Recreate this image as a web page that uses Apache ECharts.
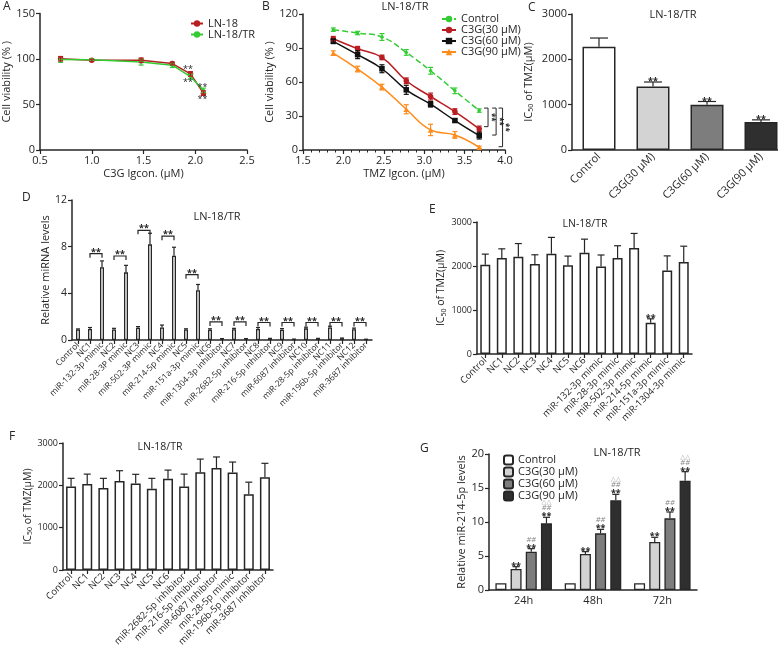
<!DOCTYPE html>
<html>
<head>
<meta charset="utf-8">
<script src="https://cdn.jsdelivr.net/npm/echarts@6/dist/echarts.min.js"></script>
<style>
  html, body { margin: 0; padding: 0; background: #fff; }
  #wrap { position: relative; width: 778px; height: 655px; }
  .panel { position: absolute; left: 0; top: 0; width: 778px; height: 655px; }
</style>
</head>
<body>
<div id="wrap">
  <div class="panel" id="pA"></div>
  <div class="panel" id="pB"></div>
  <div class="panel" id="pC"></div>
  <div class="panel" id="pD"></div>
  <div class="panel" id="pE"></div>
  <div class="panel" id="pF"></div>
  <div class="panel" id="pG"></div>
</div>
<script>
// ---- data: panel A (C3G dose, log10 µM) ----
const aDose = [0.699, 1.0, 1.477, 1.778, 1.954, 2.079];
const aLN18 = [100.2, 98.5, 98.6, 95.0, 83.6, 62.5];
const aLN18Err = [2.5, 1.2, 2.5, 1.5, 2.5, 2.5];
const aLN18TR = [99.5, 99.2, 96.8, 93.2, 80.7, 65.5];
const aLN18TRErr = [3.2, 1.2, 3.5, 2.5, 2.5, 2.5];

// ---- panel B (TMZ dose, log10 µM) ----
const bDose = [1.875, 2.176, 2.477, 2.778, 3.079, 3.380, 3.681];
const bControl = [106.2, 103.2, 99.7, 86.1, 69.9, 52.2, 34.8];
const bControlErr = [1.5, 1.5, 3, 2.5, 3, 2.5, 1.5];
const bC30 = [98.2, 89.4, 81.7, 61.1, 47.2, 33.9, 18.6];
const bC30Err = [2, 2, 2, 2.5, 3, 2.5, 2.5];
const bC60 = [95.9, 84.1, 71.7, 53.1, 40.4, 26.0, 12.7];
const bC60Err = [2, 3.5, 3.5, 4, 2.5, 1.5, 3];
const bC90 = [85.5, 71.4, 55.5, 36.0, 17.7, 13.3, 2.4];
const bC90Err = [2, 2.5, 2.5, 4, 5, 3, 1];

// ---- panel C ----
const cCats = ['Control', 'C3G(30 μM)', 'C3G(60 μM)', 'C3G(90 μM)'];
const cIC50 = [2280, 1400, 1000, 620];
const cErr = [190, 100, 70, 45];

// ---- panel D ----
const dCats = ['Control', 'NC1', 'miR-132-3p mimic', 'NC2', 'miR-28-3P mimic', 'NC3', 'miR-502-3P mimic',
  'NC4', 'miR-214-5p mimic', 'NC5', 'miR-151a-3p mimic', 'NC6', 'miR-1304-3p inhibitor', 'NC7',
  'miR-2682-5p inhibitor', 'NC8', 'miR-216-5p inhibitor', 'NC9', 'miR-6087 inhibitor', 'NC10',
  'miR-28-5p inhibitor', 'NC11', 'miR-196b-5p inhibitor', 'NC12', 'miR-3687 inhibitor'];
const dVals = [0.9, 0.95, 6.23, 0.9, 5.8, 1.05, 8.2, 1.08, 7.23, 0.9, 4.26, 0.88, 0.1, 0.92, 0.1,
  0.95, 0.12, 0.88, 0.06, 1.0, 0.12, 1.08, 0.15, 0.92, 0.05];
const dErr = [0.05, 0.12, 0.55, 0.1, 0.6, 0.1, 0.95, 0.2, 0.72, 0.06, 0.5, 0.08, 0.02, 0.08, 0.02,
  0.12, 0.02, 0.1, 0.02, 0.1, 0.02, 0.1, 0.02, 0.1, 0.02];
const dPairs = [[1, 2, 7.4], [3, 4, 7.2], [5, 6, 9.4], [7, 8, 8.9], [9, 10, 5.6], [11, 12, 1.55],
  [13, 14, 1.55], [15, 16, 1.5], [17, 18, 1.5], [19, 20, 1.5], [21, 22, 1.5], [23, 24, 1.5]];

// ---- panel E ----
const eCats = ['Control', 'NC1', 'NC2', 'NC3', 'NC4', 'NC5', 'NC6', 'miR-132-3p mimic', 'miR-28-3p mimic',
  'miR-502-3p mimic', 'miR-214-5p mimic', 'miR-151a-3p mimic', 'miR-1304-3p mimic'];
const eVals = [2030, 2180, 2210, 2045, 2280, 2015, 2300, 1990, 2180, 2410, 710, 1900, 2090];
const eErr = [240, 210, 300, 210, 370, 210, 310, 260, 280, 330, 90, 330, 360];

// ---- panel F ----
const fCats = ['Control', 'NC1', 'NC2', 'NC3', 'NC4', 'NC5', 'NC6', 'miR-2682-5p inhibitor',
  'miR-216-5p inhibitor', 'miR-6087 inhibitor', 'miR-28-5p mimic', 'miR-196b-5p inhibitor', 'miR-3687 inhibitor'];
const fVals = [1975, 2030, 1935, 2100, 2045, 1920, 2155, 1975, 2310, 2410, 2305, 1790, 2190];
const fErr = [190, 235, 230, 245, 215, 245, 205, 290, 310, 260, 245, 285, 330];

// ---- panel G ----
const gCats = ['24h', '48h', '72h'];
const gControl = [1, 1, 1];
const gC30 = [3.09, 5.29, 7.06];
const gC30Err = [0.34, 0.35, 0.69];
const gC60 = [5.64, 8.33, 10.54];
const gC60Err = [0.44, 0.59, 0.93];
const gC90 = [9.8, 13.19, 16.08];
const gC90Err = [0.89, 0.88, 1.32];

const FONT = '"Open Sans", "DejaVu Sans", sans-serif';
const INK = '#262626';
const RED = '#b81d22', GREEN = '#33cc33', ORANGE = '#ff8c1a', BLACK = '#111111';
const GREYS = ['#ffffff', '#d3d3d3', '#7d7d7d', '#2f2f2f'];

function merge(base, extra) {
  const out = Object.assign({}, base);
  Object.keys(extra || {}).forEach(k => {
    const v = extra[k];
    const isObj = v && typeof v === 'object' && !Array.isArray(v);
    out[k] = (isObj && base[k] && typeof base[k] === 'object') ? merge(base[k], v) : v;
  });
  return out;
}

const axisBase = {
  nameLocation: 'middle',
  axisLine: { show: true, onZero: false, lineStyle: { color: INK, width: 1.5 } },
  axisTick: { show: true, length: 4, lineStyle: { color: INK, width: 1.2 } },
  axisLabel: { color: INK, fontSize: 11, fontFamily: FONT, margin: 5 },
  splitLine: { show: false },
  nameTextStyle: { color: INK, fontSize: 11, fontFamily: FONT }
};
const valueAxis = (min, max, interval, more) => merge(axisBase, merge({
  type: 'value', min, max, interval, axisLabel: { formatter: v => String(v) }
}, more));
const catAxis = (data, more) => merge(axisBase, merge({
  type: 'category', data,
  axisTick: { alignWithLabel: true },
  axisLabel: { rotate: 45, interval: 0, fontSize: 9 }
}, more));

function grid(left, top, width, height) {
  return { left, top, width, height, containLabel: false, outerBoundsMode: 'none' };
}

// vertical error bars: points = [x, y, up, down]
function errorBars(points, opts) {
  opts = opts || {};
  const cap = opts.cap || 3.5, color = opts.color || INK, shift = opts.shift || 0;
  return {
    type: 'custom', silent: true, z: opts.z || 4, data: points,
    renderItem(params, api) {
      const x = api.value(0), y = api.value(1), up = api.value(2), down = api.value(3);
      const hi = api.coord([x, y + up]);
      const lo = api.coord([x, y - down]);
      const cx = hi[0] + shift;
      const st = { stroke: color, lineWidth: 1.2 };
      const kids = [
        { type: 'line', shape: { x1: cx, y1: hi[1], x2: cx, y2: lo[1] }, style: st },
        { type: 'line', shape: { x1: cx - cap, y1: hi[1], x2: cx + cap, y2: hi[1] }, style: st }
      ];
      if (down > 0) kids.push({ type: 'line', shape: { x1: cx - cap, y1: lo[1], x2: cx + cap, y2: lo[1] }, style: st });
      return { type: 'group', children: kids };
    }
  };
}

// text marks at data positions
function textMarks(points, texts, opts) {
  opts = opts || {};
  return {
    type: 'custom', silent: true, z: 6, data: points,
    renderItem(params, api) {
      const c = api.coord([api.value(0), api.value(1)]);
      return {
        type: 'text', x: c[0] + (opts.dx || 0), y: c[1] + (opts.dy || 0), rotation: opts.rotation || 0,
        style: {
          text: texts[params.dataIndex], fill: opts.color || INK,
          font: opts.font || ('bold 9px ' + FONT), align: 'center', verticalAlign: opts.va || 'bottom'
        }
      };
    }
  };
}

function mount(id, option) {
  const chart = echarts.init(document.getElementById(id), null, { renderer: 'canvas' });
  option.animation = false;
  option.textStyle = { fontFamily: FONT, color: INK };
  chart.setOption(option);
  return chart;
}

function label(text, x, y, size, align) {
  return {
    type: 'text', x, y,
    style: { text, fill: INK, font: (size || 11) + 'px ' + FONT, align: align || 'center', verticalAlign: 'middle' }
  };
}

const pairs = (xs, ys) => xs.map((x, i) => [x, ys[i]]);
const errPts = (xs, ys, es, both) => xs.map((x, i) => [x, ys[i], es[i], both ? es[i] : 0]);
const idx = arr => arr.map((_, i) => i);

// ================= A =================
mount('pA', {
  grid: grid(40, 13.5, 207, 136.5),
  xAxis: valueAxis(0.5, 2.5, 0.5, {
    name: 'C3G lgcon. (μM)', nameGap: 18,
    axisLabel: { formatter: v => v.toFixed(1) }
  }),
  yAxis: valueAxis(0, 150, 50, { name: 'Cell viability (% )', nameGap: 25 }),
  legend: {
    left: 185, top: 13, orient: 'vertical', itemGap: 0, itemWidth: 12, itemHeight: 8,
    textStyle: { fontSize: 11, lineHeight: 11, color: INK }, data: ['LN-18', 'LN-18/TR']
  },
  graphic: [label('A', 3, 7, 12, 'left')],
  series: [
    errorBars(errPts(aDose, aLN18TR, aLN18TRErr, true), { color: GREEN, cap: 2.5 }),
    errorBars(errPts(aDose, aLN18, aLN18Err, true), { color: RED, cap: 2.5 }),
    { type: 'line', name: 'LN-18/TR', data: pairs(aDose, aLN18TR), symbol: 'circle', symbolSize: 3.5,
      lineStyle: { color: GREEN, width: 1.5 }, itemStyle: { color: GREEN }, z: 3 },
    { type: 'line', name: 'LN-18', data: pairs(aDose, aLN18), symbol: 'circle', symbolSize: 5.5,
      lineStyle: { color: RED, width: 1.5 }, itemStyle: { color: RED }, z: 2 },
    textMarks([[1.93, 88], [1.93, 74.5], [2.07, 68.4], [2.07, 56]], ['**', '**', '**', '**'],
      { va: 'middle', font: '9px ' + FONT })
  ]
});

// ================= B =================
const bSeries = [
  ['Control', bControl, bControlErr, GREEN, 'circle', 3.5, 'dashed'],
  ['C3G(30 μM)', bC30, bC30Err, RED, 'circle', 5.5, 'solid'],
  ['C3G(60 μM)', bC60, bC60Err, BLACK, 'rect', 5.5, 'solid'],
  ['C3G(90 μM)', bC90, bC90Err, ORANGE, 'triangle', 5.5, 'solid']
];
mount('pB', {
  grid: grid(303, 14, 202, 136),
  xAxis: valueAxis(1.5, 4.0, 0.5, {
    name: 'TMZ lgcon. (μM)', nameGap: 18,
    minorTick: { show: true, splitNumber: 5, length: 2.5, lineStyle: { color: INK, width: 1 } },
    axisLabel: { formatter: v => v.toFixed(1) }
  }),
  yAxis: valueAxis(0, 120, 30, { name: 'Cell viability (% )', nameGap: 22 }),
  legend: {
    left: 436, top: 8.5, orient: 'vertical', itemGap: 0, itemWidth: 14, itemHeight: 8,
    textStyle: { fontSize: 11, lineHeight: 11, color: INK }, data: bSeries.map(s => s[0])
  },
  graphic: [label('B', 262, 7, 12, 'left'), label('LN-18/TR', 405, 7, 11)],
  series: [].concat(
    bSeries.map(s => errorBars(errPts(bDose, s[1], s[2], true), { color: s[3], cap: 2.5 })),
    bSeries.map(s => ({
      type: 'line', name: s[0], data: pairs(bDose, s[1]), smooth: 0.45,
      symbol: s[4], symbolSize: s[5],
      lineStyle: { color: s[3], width: 1.5, type: s[6] }, itemStyle: { color: s[3] }
    })),
    [{
      type: 'custom', silent: true, z: 6, data: [[3.79, 37, 20.6], [3.89, 37, 13.2], [3.97, 37, 2.9]],
      renderItem(params, api) {
        const a = api.coord([api.value(0), api.value(1)]);
        const b = api.coord([api.value(0), api.value(2)]);
        return {
          type: 'group', children: [
            { type: 'polyline', shape: { points: [[a[0] - 4, a[1]], a, b, [b[0] - 4, b[1]]] },
              style: { stroke: INK, lineWidth: 1, fill: 'none' } },
            { type: 'text', x: a[0] + 3, y: (a[1] + b[1]) / 2, rotation: -Math.PI / 2,
              style: { text: '**', fill: INK, font: 'bold 8px ' + FONT, align: 'center', verticalAlign: 'middle' } }
          ]
        };
      }
    }]
  )
});

// ================= C =================
mount('pC', {
  grid: grid(572, 14, 216, 136),
  xAxis: catAxis(cCats, { axisLabel: { fontSize: 11 }, axisTick: { show: false } }),
  yAxis: valueAxis(0, 3000, 1000, {
    name: '{a|IC}{b|50}{a| of TMZ(μM)}', nameGap: 38,
    nameTextStyle: { rich: { a: { fontSize: 11, color: INK }, b: { fontSize: 7, color: INK, verticalAlign: 'bottom' } } }
  }),
  graphic: [label('C', 528, 8, 12, 'left'), label('LN-18/TR', 673, 15, 11)],
  series: [
    { type: 'bar', data: cIC50.map((v, i) => ({ value: v, itemStyle: { color: GREYS[i] } })), barWidth: 33,
      itemStyle: { borderColor: INK, borderWidth: 1.5 } },
    errorBars(errPts(idx(cCats), cIC50, cErr), { cap: 9 }),
    textMarks(errPts(idx(cCats), cIC50, cErr).slice(1).map(p => [p[0], p[1] + p[2]]), ['**', '**', '**'],
      { dy: 4, font: 'bold 9px ' + FONT })
  ]
});

// ================= D =================
mount('pD', {
  grid: grid(72, 200, 300, 140),
  xAxis: catAxis(dCats, { axisLabel: { fontSize: 8.5, margin: 4 } }),
  yAxis: valueAxis(0, 12, 4, { name: 'Relative miRNA levels', nameGap: 18, axisLabel: { fontSize: 10.5 } }),
  graphic: [label('D', 22, 198, 12, 'left'), label('LN-18/TR', 217, 217, 11)],
  series: [
    { type: 'bar', data: dVals, barWidth: 4, itemStyle: { color: '#fff', borderColor: INK, borderWidth: 1.3 } },
    errorBars(errPts(idx(dCats), dVals, dErr), { cap: 2 }),
    {
      type: 'custom', silent: true, z: 6, data: dPairs,
      renderItem(params, api) {
        const a = api.coord([api.value(0), api.value(2)]);
        const b = api.coord([api.value(1), api.value(2)]);
        return {
          type: 'group', children: [
            { type: 'polyline', shape: { points: [[a[0], a[1] + 4], a, b, [b[0], b[1] + 4]] },
              style: { stroke: INK, lineWidth: 1.2, fill: 'none' } },
            { type: 'text', x: (a[0] + b[0]) / 2, y: a[1] + 3,
              style: { text: '**', fill: INK, font: 'bold 9px ' + FONT, align: 'center', verticalAlign: 'bottom' } }
          ]
        };
      }
    }
  ]
});

// ================= E =================
const icName = {
  name: '{a|IC}{b|50}{a| of TMZ(μM)}',
  nameTextStyle: { rich: { a: { fontSize: 10.5, color: INK }, b: { fontSize: 7, color: INK, verticalAlign: 'bottom' } } },
  axisLabel: { fontSize: 9 }
};
mount('pE', {
  grid: grid(477, 222, 215, 132),
  xAxis: catAxis(eCats, { axisLabel: { fontSize: 9.5 } }),
  yAxis: valueAxis(0, 3000, 1000, merge(icName, { nameGap: 30 })),
  graphic: [label('E', 429, 210, 12, 'left'), label('LN-18/TR', 585, 224, 10.5)],
  series: [
    { type: 'bar', data: eVals, barWidth: 10, itemStyle: { color: '#fff', borderColor: INK, borderWidth: 1.5 } },
    errorBars(errPts(idx(eCats), eVals, eErr), { cap: 3.5 }),
    textMarks([[10, eVals[10] + eErr[10]]], ['**'], { dy: 4 })
  ]
});

// ================= F =================
mount('pF', {
  grid: grid(63, 443, 210, 127),
  xAxis: catAxis(fCats, { axisLabel: { fontSize: 9.5 } }),
  yAxis: valueAxis(0, 3000, 1000, merge(icName, { nameGap: 26 })),
  graphic: [label('F', 9, 437, 12, 'left'), label('LN-18/TR', 160, 447, 10.5)],
  series: [
    { type: 'bar', data: fVals, barWidth: 10, itemStyle: { color: '#fff', borderColor: INK, borderWidth: 1.5 } },
    errorBars(errPts(idx(fCats), fVals, fErr), { cap: 3.5 })
  ]
});

// ================= G =================
const gSeries = [
  ['Control', gControl, [0, 0, 0], ''],
  ['C3G(30 μM)', gC30, gC30Err, '**'],
  ['C3G(60 μM)', gC60, gC60Err, '##'],
  ['C3G(90 μM)', gC90, gC90Err, '△△']
];
const gStep = 15.2;
mount('pG', {
  grid: grid(489, 454, 208, 136),
  xAxis: catAxis(gCats, { axisLabel: { rotate: 0, fontSize: 11 }, axisTick: { show: false } }),
  yAxis: valueAxis(0, 20, 5, { name: 'Relative miR-214-5p levels', nameGap: 19 }),
  legend: {
    left: 498, top: 449, orient: 'vertical', itemGap: 0, itemWidth: 9, itemHeight: 9,
    textStyle: { fontSize: 11, lineHeight: 12, color: INK }, data: gSeries.map(s => s[0])
  },
  graphic: [label('G', 420, 449, 12, 'left'), label('LN-18/TR', 617, 453, 11)],
  series: [].concat(
    gSeries.map((s, k) => ({
      type: 'bar', name: s[0], data: s[1], barWidth: 11, barGap: '38%',
      itemStyle: { color: GREYS[k], borderColor: INK, borderWidth: 1.3 }
    })),
    gSeries.slice(1).map((s, j) => errorBars(errPts(idx(gCats), s[1], s[2]), { cap: 3.5, shift: (j + 1 - 1.5) * gStep })),
    gSeries.slice(1).map((s, j) => {
      const k = j + 1;
      return {
        type: 'custom', silent: true, z: 6, data: errPts(idx(gCats), s[1], s[2]).map(p => [p[0], p[1] + p[2]]),
        renderItem(params, api) {
          const c = api.coord([api.value(0), api.value(1)]);
          const x = c[0] + (k - 1.5) * gStep;
          const kids = [{ type: 'text', x, y: c[1] + 4,
            style: { text: '**', fill: INK, font: 'bold 9px ' + FONT, align: 'center', verticalAlign: 'bottom' } }];
          if (k >= 2) kids.push({ type: 'text', x, y: c[1] - 5,
            style: { text: '##', fill: '#888', font: 'italic 7.5px ' + FONT, align: 'center', verticalAlign: 'bottom' } });
          if (k >= 3) kids.push({ type: 'text', x, y: c[1] - 11.5,
            style: { text: '△△', fill: '#aaa', font: '6.5px ' + FONT, align: 'center', verticalAlign: 'bottom' } });
          return { type: 'group', children: kids };
        }
      };
    })
  )
});
</script>
</body>
</html>
